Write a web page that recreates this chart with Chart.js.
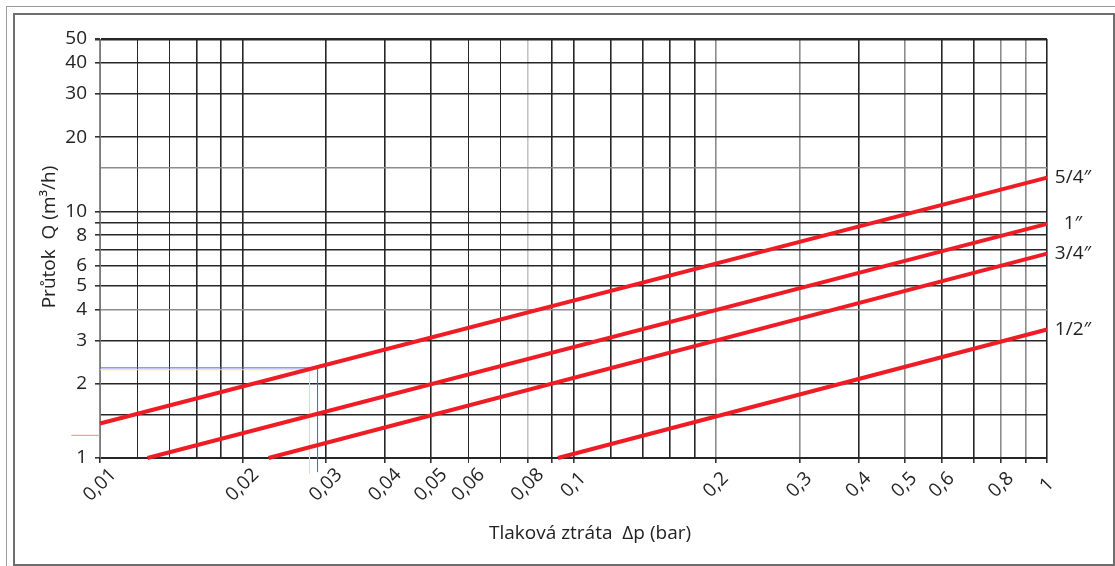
<!DOCTYPE html>
<html>
<head>
<meta charset="utf-8">
<script src="https://cdn.jsdelivr.net/npm/chart.js@4.4.0/dist/chart.umd.min.js"></script>
<style>
  html, body { margin: 0; padding: 0; background: #fff; }
  #wrap { position: absolute; left: 0; top: 0; width: 1115px; height: 566px; }
  .frame-outer-top { position: absolute; left: 6px; top: 6px; width: 1109px; height: 0; border-top: 1px solid #9a9a9a; }
  .frame-outer-left { position: absolute; left: 6px; top: 6px; width: 0; height: 560px; border-left: 1px solid #9a9a9a; }
  .frame-inner { position: absolute; left: 13px; top: 13px; width: 1098px; height: 549px; border: 2px solid #6e6e6e; box-sizing: content-box; }
</style>
</head>
<body>
<div id="wrap"><canvas id="c" width="1115" height="566"></canvas></div>
<div class="frame-outer-top"></div>
<div class="frame-outer-left"></div>
<div class="frame-inner"></div>
<script>
// Pressure drop Δp (bar) vs flow Q (m³/h), log-log, one line per connection size
const sizes = ['5/4″', '1″', '3/4″', '1/2″'];

const dp54 = [0.01, 1];
const q54  = [1.38, 13.7];
const dp1  = [0.0126, 1];
const q1   = [1, 8.9];
const dp34 = [0.0227, 1];
const q34  = [1, 6.74];
const dp12 = [0.0927, 1];
const q12  = [1, 3.32];

// reading example: Q ≈ 2.3 m³/h on the 5/4″ line
const guideBlueX = [0.01, 0.0288, 0.0288];
const guideBlueY = [2.32, 2.32, 0.877];
const guideYellowX = [0.01, 0.0277, 0.0277];
const guideYellowY = [2.28, 2.28, 0.864];
const markX = [0.0087, 0.01];
const markY = [1.236, 1.236];

// grid lines and labelled ticks
const xGrid = [0.01, 0.012, 0.014, 0.016, 0.018, 0.02, 0.03, 0.04, 0.05, 0.06, 0.07, 0.08, 0.09,
               0.1, 0.12, 0.14, 0.16, 0.18, 0.2, 0.3, 0.4, 0.5, 0.6, 0.7, 0.8, 0.9, 1];
const xLabels = [0.01, 0.02, 0.03, 0.04, 0.05, 0.06, 0.08, 0.1, 0.2, 0.3, 0.4, 0.5, 0.6, 0.8, 1];
const yGrid = [1, 1.5, 2, 3, 4, 5, 6, 7, 8, 9, 10, 15, 20, 30, 40, 50];
const yLabels = [1, 2, 3, 4, 5, 6, 8, 10, 20, 30, 40, 50];

const xTitle = 'Tlaková ztráta  Δp (bar)';
const yTitle = 'Průtok  Q (m³/h)';

// line styling for the printed grid
const xGrey = [0.01, 0.2, 0.3, 0.5, 0.8, 0.9];
const xPale = [0.08];
const xThin = [0.012, 0.014, 0.06, 0.07];
const xNoTick = [0.012, 0.014, 0.016, 0.018, 0.12, 0.14, 0.16, 0.18];
const yGrey = [15, 4];
const yNoTick = [1.5, 15];

const fmt = v => String(v).replace('.', ',');
const pts = (xs, ys) => xs.map((x, i) => ({ x: x, y: ys[i] }));

const RED = '#ee1c25';
const FONT = "'Open Sans', 'DejaVu Sans', sans-serif";

const sizeLine = (label, xs, ys) => ({
  label: label, data: pts(xs, ys), borderColor: RED, borderWidth: 4,
  pointRadius: 0, tension: 0, fill: false, clip: false
});

const textPlugin = {
  id: 'chartText',
  afterDatasetsDraw(chart) {
    const ctx = chart.ctx;
    const xs = chart.scales.x, ys = chart.scales.y, area = chart.chartArea;
    ctx.save();
    ctx.fillStyle = '#222';
    ctx.font = '19px ' + FONT;
    ctx.textAlign = 'center';
    ctx.textBaseline = 'middle';
    // rotated x tick labels, centred under their ticks
    xLabels.forEach(v => {
      ctx.save();
      ctx.translate(xs.getPixelForValue(v), area.bottom + 27);
      ctx.rotate(-Math.PI / 4);
      ctx.fillText(fmt(v), 0, 0);
      ctx.restore();
    });
    // axis titles
    ctx.fillText(xTitle, 590, area.bottom + 76);
    ctx.save();
    ctx.translate(50, 237);
    ctx.rotate(-Math.PI / 2);
    ctx.fillText(yTitle, 0, 0);
    ctx.restore();
    // size labels at the line ends
    const ends = [q54, q1, q34, q12];
    sizes.forEach((s, i) => {
      const q = ends[i][ends[i].length - 1];
      ctx.fillText(s, area.right + 26, ys.getPixelForValue(q));
    });
    ctx.restore();
  }
};

new Chart(document.getElementById('c'), {
  type: 'line',
  data: {
    datasets: [
      sizeLine(sizes[0], dp54, q54),
      sizeLine(sizes[1], dp1, q1),
      sizeLine(sizes[2], dp34, q34),
      sizeLine(sizes[3], dp12, q12),
      { label: 'mark', data: pts(markX, markY), borderColor: '#f28a8a', borderWidth: 1,
        pointRadius: 0, tension: 0, clip: false },
      { label: 'guideYellow', data: pts(guideYellowX, guideYellowY), borderColor: '#f2ee3a', borderWidth: 1,
        pointRadius: 0, tension: 0, clip: false },
      { label: 'guideBlue', data: pts(guideBlueX, guideBlueY), borderColor: '#5a5aff', borderWidth: 1,
        pointRadius: 0, tension: 0, clip: false }
    ]
  },
  options: {
    responsive: false,
    animation: false,
    events: [],
    layout: { padding: { top: 39, right: 68, left: 0, bottom: 0 } },
    plugins: { legend: { display: false }, tooltip: { enabled: false }, title: { display: false } },
    scales: {
      x: {
        type: 'logarithmic', min: 0.01, max: 1, position: 'bottom',
        afterBuildTicks: s => { s.ticks = xGrid.map(v => ({ value: v })); },
        afterFit: s => { s.height = 108; },
        ticks: { display: false, autoSkip: false },
        grid: {
          color: c => xPale.includes(c.tick.value) ? '#c4c4c4' : (xGrey.includes(c.tick.value) ? '#8c8c8c' : '#262626'),
          lineWidth: c => xThin.includes(c.tick.value) ? 1 : 1.6,
          tickColor: c => xNoTick.includes(c.tick.value) ? 'rgba(0,0,0,0)' : '#333',
          tickLength: 5, drawTicks: true
        },
        border: { display: true, color: '#262626', width: 2 }
      },
      y: {
        type: 'logarithmic', min: 1, max: 50, position: 'left',
        afterBuildTicks: s => { s.ticks = yGrid.map(v => ({ value: v })); },
        afterFit: s => { s.width = 100; },
        ticks: {
          autoSkip: false, padding: 8, color: '#222',
          font: { family: FONT, size: 19 },
          callback: v => yLabels.includes(v) ? fmt(v) : ''
        },
        grid: {
          color: c => yGrey.includes(c.tick.value) ? '#8c8c8c' : '#262626',
          lineWidth: c => c.tick.value === 50 ? 2.5 : 1.6,
          tickColor: c => yNoTick.includes(c.tick.value) ? 'rgba(0,0,0,0)' : '#333',
          tickLength: 5, drawTicks: true
        },
        border: { display: true, color: '#7a7a7a', width: 1 }
      }
    }
  },
  plugins: [textPlugin]
});
</script>
</body>
</html>
